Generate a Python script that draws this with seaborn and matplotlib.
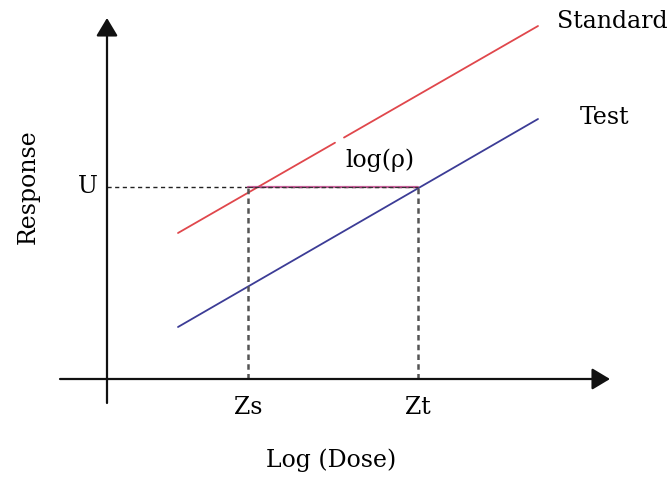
import numpy as np
import pandas as pd
import matplotlib
matplotlib.use("Agg")
import matplotlib.pyplot as plt
import seaborn as sns

# ---- data (conceptual units: log dose vs response) ----
log_dose = [7.1, 43.1]
standard_resp = [14.6, 35.3]
test_resp = [5.2, 26.0]
U = 19.2
Zs = 14.1
Zt = 31.1
gap_x = [22.8, 23.7]          # small break in the Standard line
x_axis_range = [-4.7, 50.3]
y_axis_range = [-2.4, 36.1]
tick_labels = ["Zs", "Zt"]
series_names = ["Standard", "Test"]

sns.set_theme(style="white")
plt.rcParams['font.family'] = ['DejaVu Serif']
plt.rcParams['text.color'] = 'black'

fig = plt.figure(figsize=(6.71, 4.78), dpi=100)
ax = fig.add_axes([0, 0, 1, 1])
ax.set_xlim(-10.7, 56.4)
ax.set_ylim(-9.9, 37.9)
ax.axis("off")

red = "#e0474c"
blue = "#3c3c96"

# Standard line with a small gap
def std_y(x):
    return standard_resp[0] + (standard_resp[1] - standard_resp[0]) * (x - log_dose[0]) / (log_dose[1] - log_dose[0])

seg1 = pd.DataFrame({"x": [log_dose[0], gap_x[0]], "y": [standard_resp[0], std_y(gap_x[0])]})
seg2 = pd.DataFrame({"x": [gap_x[1], log_dose[1]], "y": [std_y(gap_x[1]), standard_resp[1]]})
sns.lineplot(data=seg1, x="x", y="y", ax=ax, color=red, lw=1.3)
sns.lineplot(data=seg2, x="x", y="y", ax=ax, color=red, lw=1.3)

test_df = pd.DataFrame({"x": log_dose, "y": test_resp})
sns.lineplot(data=test_df, x="x", y="y", ax=ax, color=blue, lw=1.3)

# axes with arrows
ax.annotate("", xy=(x_axis_range[1], 0), xytext=(x_axis_range[0], 0),
            arrowprops=dict(arrowstyle="-|>,head_length=0.5,head_width=0.3", mutation_scale=22,
                            lw=1.6, color="#111111", shrinkA=0, shrinkB=0))
ax.annotate("", xy=(0, y_axis_range[1]), xytext=(0, y_axis_range[0]),
            arrowprops=dict(arrowstyle="-|>,head_length=0.5,head_width=0.3", mutation_scale=22,
                            lw=1.6, color="#111111", shrinkA=0, shrinkB=0))

# U dashed line
ax.plot([0, Zt], [U, U], color="#222222", lw=1.0, dashes=(3, 2.5))
# magenta segment between Zs and Zt
ax.plot([Zs, Zt], [U, U], color="#c04088", lw=1.6, alpha=0.8)
ax.plot([Zs, Zt], [U, U], color="#333333", lw=0.8, dashes=(4, 2))

# vertical dashed lines
for zx in (Zs, Zt):
    ax.plot([zx, zx], [0, U], color="#555555", lw=1.8, dashes=(2.2, 1.7))

fs = 17
ax.text(45.0, 35.7, series_names[0], ha="left", va="center", fontsize=fs)
ax.text(47.3, 26.1, series_names[1], ha="left", va="center", fontsize=fs)
ax.text(-1.9, U, "U", ha="center", va="center", fontsize=fs)
ax.text(-7.9, U, "Response", ha="center", va="center", rotation=90, fontsize=fs)
ax.text(Zs, -2.9, tick_labels[0], ha="center", va="center", fontsize=fs)
ax.text(Zt, -2.9, tick_labels[1], ha="center", va="center", fontsize=fs)
ax.text(22.4, -8.1, "Log (Dose)", ha="center", va="center", fontsize=fs)
ax.text(23.8, 21.9, "log(ρ)", ha="left", va="center", fontsize=fs)

fig.savefig("out.png", dpi=100)
